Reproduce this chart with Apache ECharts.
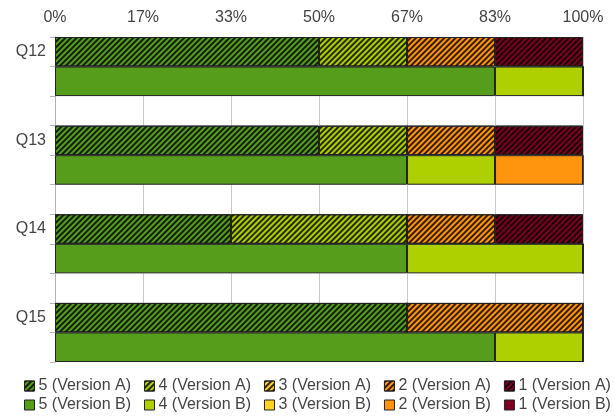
<!DOCTYPE html>
<html>
<head>
<meta charset="utf-8">
<script src="https://cdn.jsdelivr.net/npm/echarts@6/dist/echarts.min.js"></script>
<style>
  html, body { margin: 0; padding: 0; background: #fff; }
  #chart { width: 615px; height: 417px; }
</style>
</head>
<body>
<div id="chart"></div>
<script>
// ---- Data (shares in %) ----
const questions = ['Q12', 'Q13', 'Q14', 'Q15'];
const ratings = ['5', '4', '3', '2', '1'];
const tickLabels = ['0%', '17%', '33%', '50%', '67%', '83%', '100%'];

// Version A, per question Q12..Q15
const versionA5 = [50, 50, 33.33, 66.67];
const versionA4 = [16.67, 16.67, 33.33, 0];
const versionA3 = [0, 0, 0, 0];
const versionA2 = [16.67, 16.67, 16.67, 33.33];
const versionA1 = [16.66, 16.66, 16.67, 0];

// Version B, per question Q12..Q15
const versionB5 = [83.33, 66.67, 66.67, 83.33];
const versionB4 = [16.67, 16.67, 33.33, 16.67];
const versionB3 = [0, 0, 0, 0];
const versionB2 = [0, 16.66, 0, 0];
const versionB1 = [0, 0, 0, 0];

const colors = ['#579d1c', '#aecf00', '#ffd320', '#ff950e', '#7e0021'];

// ---- Build category slots: A row, B row, gap row per question ----
const slots = [];
questions.forEach((q, i) => {
  slots.push(q + ' A');
  slots.push(q + ' B');
  if (i < questions.length - 1) slots.push('gap ' + i);
});

function rowData(values, version) {
  const out = [];
  questions.forEach((q, i) => {
    out.push(version === 'A' ? values[i] : '-');
    out.push(version === 'B' ? values[i] : '-');
    if (i < questions.length - 1) out.push('-');
  });
  return out;
}

const aValues = [versionA5, versionA4, versionA3, versionA2, versionA1];
const bValues = [versionB5, versionB4, versionB3, versionB2, versionB1];

const hatch = {
  symbol: 'rect',
  symbolSize: 1,
  dashArrayX: [1, 0],
  dashArrayY: [2, 2],
  rotation: -Math.PI / 4,
  color: 'rgba(0,0,0,0.8)'
};

const series = [];
ratings.forEach((r, k) => {
  series.push({
    name: r + ' (Version A)',
    type: 'bar',
    stack: 'all',
    barCategoryGap: 0,
    data: rowData(aValues[k], 'A'),
    itemStyle: { color: colors[k], borderColor: '#222', borderWidth: 1, decal: hatch },
    emphasis: { disabled: true }
  });
});
ratings.forEach((r, k) => {
  series.push({
    name: r + ' (Version B)',
    type: 'bar',
    stack: 'all',
    barCategoryGap: 0,
    data: rowData(bValues[k], 'B'),
    itemStyle: { color: colors[k], borderColor: '#222', borderWidth: 1 },
    emphasis: { disabled: true }
  });
});

const legendCommon = {
  left: 24,
  width: 600,
  padding: 0,
  orient: 'horizontal',
  itemWidth: 10,
  itemHeight: 10,
  itemGap: 13,
  icon: 'rect',
  textStyle: { fontSize: 16, color: '#444', fontFamily: 'Liberation Sans', padding: [0, 0, 0, -1] },
  itemStyle: { borderColor: '#222', borderWidth: 1 }
};

const chart = echarts.init(document.getElementById('chart'), null, { renderer: 'canvas' });
chart.setOption({
  animation: false,
  textStyle: { fontFamily: 'Liberation Sans' },
  grid: { left: 55, right: 32, top: 37, bottom: 55 },
  xAxis: {
    type: 'value',
    position: 'top',
    min: 0,
    max: 100,
    interval: 100 / 6,
    axisLine: { show: false },
    axisTick: { show: false },
    axisLabel: {
      fontSize: 16, color: '#444', margin: 11,
      formatter: v => tickLabels[Math.round(v / (100 / 6))]
    },
    splitLine: { show: true, lineStyle: { color: '#c8c8c8', width: 1 } }
  },
  yAxis: {
    type: 'category',
    inverse: true,
    data: slots,
    axisLine: { show: true, lineStyle: { color: '#b3b3b3' } },
    axisTick: { show: true, length: 5, interval: 0, lineStyle: { color: '#b3b3b3' } },
    axisLabel: {
      interval: 0, fontSize: 16, color: '#444', margin: 9,
      formatter: v => (v.endsWith(' A') ? v.split(' ')[0] : '')
    },
    splitLine: { show: false }
  },
  legend: [
    Object.assign({}, legendCommon, { top: 378, data: ratings.map(r => r + ' (Version A)') }),
    Object.assign({}, legendCommon, { top: 397, data: ratings.map(r => r + ' (Version B)') })
  ],
  series: series
});
</script>
</body>
</html>
